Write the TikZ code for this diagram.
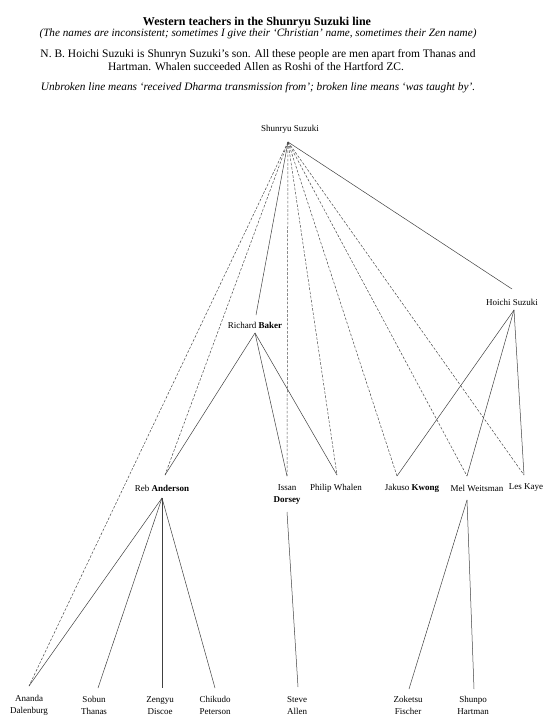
\documentclass[tikz,border=0pt]{standalone}
\usepackage{fontspec}
\setmainfont{Liberation Serif}
\begin{document}
\begin{tikzpicture}[x=1pt,y=-1pt,
  lbl/.style={inner sep=0pt, align=center, font=\fontsize{9}{12.5}\selectfont},
  txt/.style={inner sep=0pt, align=center},
  solidln/.style={draw=black!75, line width=0.5pt},
  dashln/.style={draw=black!70, line width=0.5pt, dash pattern=on 2.6pt off 1.6pt}]
\useasboundingbox (0,0) rectangle (549,725);
% header
\node[txt, font=\fontsize{12}{13}\selectfont\bfseries] (title) at (257,23) {Western teachers in the Shunryu Suzuki line};
\node[txt, font=\fontsize{11.2}{12}\selectfont\itshape] (sub) at (258,34) {(The names are inconsistent; sometimes I give their `Christian' name, sometimes their Zen name)};
\node[txt, font=\fontsize{11.5}{12}\selectfont] (nb1) at (258,55) {N. B. Hoichi Suzuki is Shunryn Suzuki's son. All these people are men apart from Thanas and};
\node[txt, font=\fontsize{11.5}{12}\selectfont] (nb2) at (256,67) {Hartman. Whalen succeeded Allen as Roshi of the Hartford ZC.};
\node[txt, font=\fontsize{11.3}{12}\selectfont\itshape] (key) at (258,88) {Unbroken line means `received Dharma transmission from'; broken line means `was taught by'.};
% nodes
\node[lbl] (ss) at (290,129) {Shunryu Suzuki};
\node[lbl] (baker) at (255,325) {Richard \textbf{Baker}};
\node[lbl] (hoichi) at (512,302) {Hoichi Suzuki};
\node[lbl] (reb) at (162,488) {Reb \textbf{Anderson}};
\node[lbl] (issan) at (287,494.5) {Issan\\\textbf{Dorsey}};
\node[lbl] (whalen) at (336,488) {Philip Whalen};
\node[lbl] (kwong) at (412,488) {Jakuso \textbf{Kwong}};
\node[lbl] (mel) at (477,488) {Mel Weitsman};
\node[lbl] (les) at (526,488) {Les Kaye};
\node[lbl] (ananda) at (29,705.5) {Ananda\\Dalenburg};
\node[lbl] (sobun) at (94,705.5) {Sobun\\Thanas};
\node[lbl] (zengyu) at (160,705.5) {Zengyu\\Discoe};
\node[lbl] (chikudo) at (215,705.5) {Chikudo\\Peterson};
\node[lbl] (steve) at (297,705.5) {Steve\\Allen};
\node[lbl] (zoketsu) at (408,705.5) {Zoketsu\\Fischer};
\node[lbl] (shunpo) at (473,705.5) {Shunpo\\Hartman};
% connection points
\coordinate (ss-b) at (288,142);
\coordinate (baker-t) at (256,315);
\coordinate (baker-b) at (255,333);
\coordinate (hoichi-t) at (512,289);
\coordinate (hoichi-b) at (514,310);
\coordinate (reb-t) at (165,475);
\coordinate (reb-b) at (162,498);
\coordinate (issan-t) at (287,476);
\coordinate (issan-b) at (287,512);
\coordinate (whalen-t) at (337,475);
\coordinate (kwong-t) at (397,476);
\coordinate (mel-t) at (467,476);
\coordinate (mel-b) at (467,500);
\coordinate (les-t) at (524,475);
\coordinate (ananda-t) at (29,686);
\coordinate (sobun-t) at (98,688);
\coordinate (zengyu-t) at (162,688);
\coordinate (chikudo-t) at (215,688);
\coordinate (steve-t) at (298,687);
\coordinate (zoketsu-t) at (409,689);
\coordinate (shunpo-t) at (474,689);
% Shunryu Suzuki
\draw[solidln] (ss-b) -- (hoichi-t);
\draw[solidln] (ss-b) -- (baker-t);
\foreach \t in {ananda-t, reb-t, issan-t, whalen-t, kwong-t, mel-t, les-t}
  \draw[dashln] (ss-b) -- (\t);
% Baker
\foreach \t in {reb-t, issan-t, whalen-t}
  \draw[solidln] (baker-b) -- (\t);
% Hoichi
\foreach \t in {kwong-t, mel-t, les-t}
  \draw[solidln] (hoichi-b) -- (\t);
% Reb
\foreach \t in {ananda-t, sobun-t, zengyu-t, chikudo-t}
  \draw[solidln] (reb-b) -- (\t);
% Issan
\draw[solidln] (issan-b) -- (steve-t);
% Mel
\foreach \t in {zoketsu-t, shunpo-t}
  \draw[solidln] (mel-b) -- (\t);
\end{tikzpicture}
\end{document}
